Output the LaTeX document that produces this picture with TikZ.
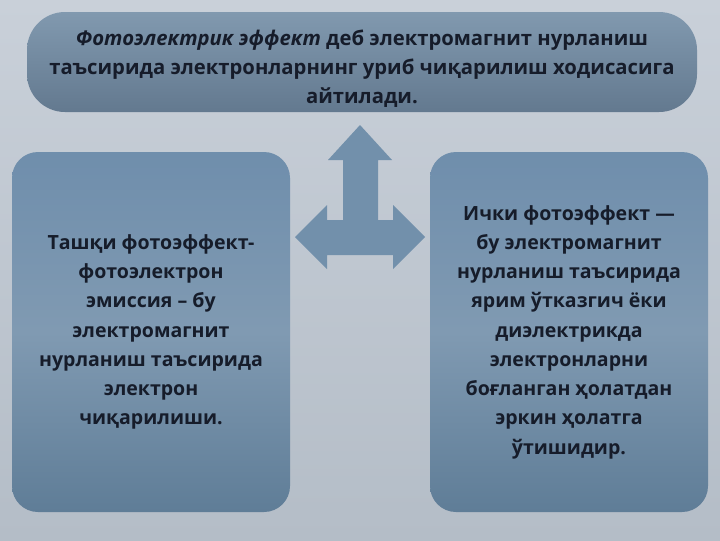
\documentclass[tikz,border=0pt]{standalone}
\usepackage{fontspec}
\setmainfont{Open Sans}
\definecolor{bgtop}{HTML}{C9D0D9}
\definecolor{bgbot}{HTML}{B4BDC7}
\definecolor{boxtop}{HTML}{6F8EAC}
\definecolor{boxmid}{HTML}{809AB2}
\definecolor{boxbot}{HTML}{5F7D97}
\definecolor{headtop}{HTML}{8199AF}
\definecolor{headbot}{HTML}{63798F}
\definecolor{arrowfill}{HTML}{7290AB}
\definecolor{inktext}{HTML}{161C2A}
\tikzset{
  headbox/.style={rounded corners=38\unitlength, top color=headtop, bottom color=headbot,
    minimum width=670\unitlength, minimum height=100\unitlength},
  headtext/.style={align=center, text=inktext, font=\bfseries\fontsize{14.4}{20.5}\selectfont},
  sidebox/.style={rounded corners=26\unitlength, top color=boxtop, bottom color=boxbot, middle color=boxmid,
    minimum width=278\unitlength, minimum height=360\unitlength, align=center,
    text=inktext, font=\bfseries\fontsize{13.9}{20.8}\selectfont}
}
\setlength{\unitlength}{0.025cm}
\begin{document}
\begin{tikzpicture}[x=0.025cm, y=-0.025cm]
            % Background
            \shade[top color=bgtop, bottom color=bgbot] (0,0) rectangle (720,540);
            \useasboundingbox (0,0) rectangle (720,540);

            % Definition box
            \node[headbox] (definition) at (362,62) {};
            \node[headtext] (definitiontext) at (362,69) {\textit{Фотоэлектрик эффект} деб электромагнит нурланиш\\
              таъсирида электронларнинг уриб чиқарилиш ходисасига\\ айтилади.};

            % Two kinds
            \node[sidebox] (external) at (151,332) {Ташқи фотоэффект-\\ фотоэлектрон\\ эмиссия – бу\\
              электромагнит\\ нурланиш таъсирида\\ электрон\\ чиқарилиши.};
            \node[sidebox] (internal) at (569,332) {Ички фотоэффект —\\ бу электромагнит\\ нурланиш таъсирида\\
              ярим ўтказгич ёки\\ диэлектрикда\\ электронларни\\ боғланган ҳолатдан\\ эркин ҳолатга\\ ўтишидир.};

            % Three way arrow
            \coordinate (uptip) at (360,125);
            \coordinate (lefttip) at (295,237);
            \coordinate (righttip) at (425,237);
            \fill[arrowfill] (uptip) -- (392,160) -- (378,160) -- (378,220) -- (393,220) -- (393,205)
              -- (righttip) -- (393,269) -- (393,255) -- (327,255) -- (327,269) -- (lefttip)
              -- (327,205) -- (327,220) -- (343,220) -- (343,160) -- (328,160) -- cycle;
        \end{tikzpicture}
\end{document}
